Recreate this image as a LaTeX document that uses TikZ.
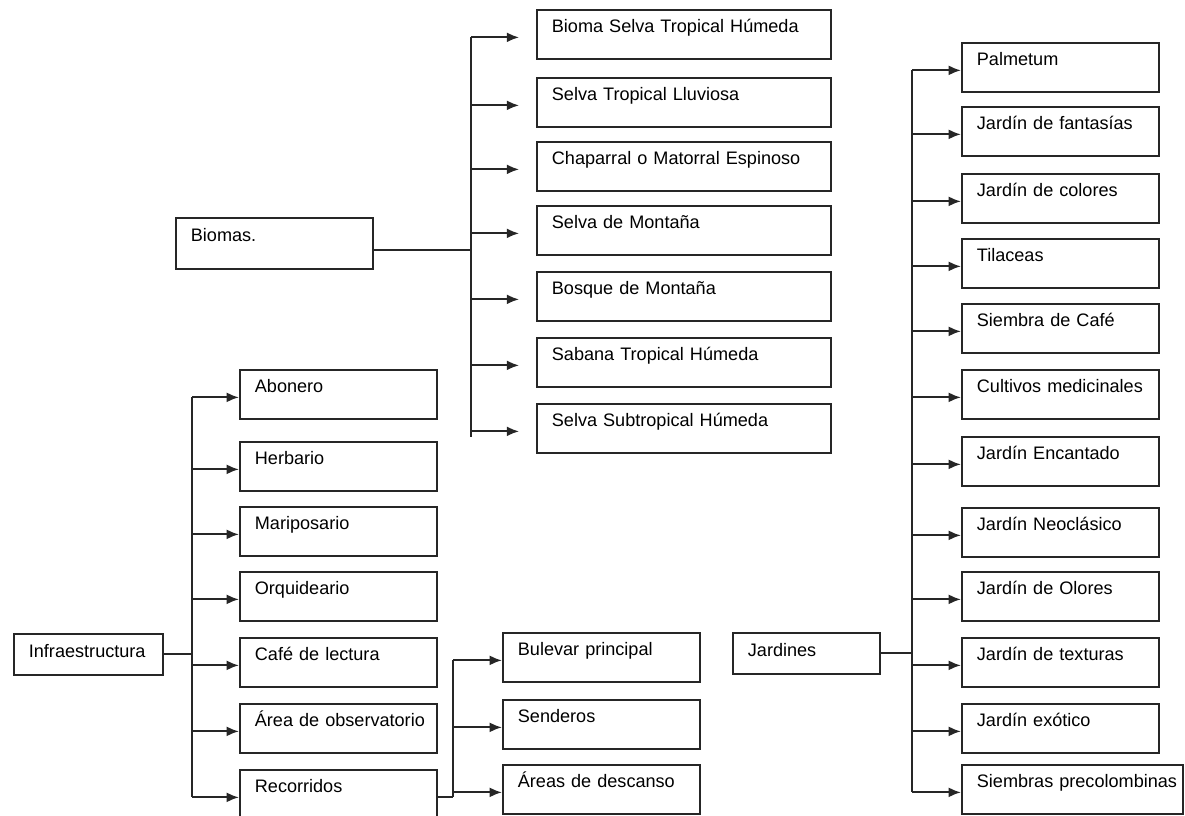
\documentclass[tikz,border=0pt]{standalone}
\usepackage{fontspec}
\setmainfont{Liberation Sans}
\usetikzlibrary{arrows.meta}
\tikzset{
  box/.style={draw=black!85, line width=1pt, anchor=north west, inner xsep=0pt, inner ysep=0pt,
    text height=0.46cm, text depth=0.52cm, text width=3.94cm, align=left,
    execute at begin node={\hspace*{0.3cm}}},
  wide/.style={box, text width=5.88cm},
  head/.style={box, text height=0.47cm, text depth=0.35cm},
  link/.style={line width=1.1pt, draw=black!85},
  arrow/.style={link, -{Latex[length=7pt,width=5.6pt]}},
  low/.style={yshift=-1.7pt}
}
\begin{document}
\begin{tikzpicture}[x=0.02cm,y=-0.02cm]
	\fontsize{10.3}{12}\selectfont
	\useasboundingbox (0,0) rectangle (1185,815);
	% Parents
	\node[head, text depth=0.55cm] (biomas) at (175,217) {Biomas.};
	\node[head, text width=2.98cm] (infra) at (13,633) {Infraestructura};
	\node[head, text width=2.94cm] (jardines) at (732,632) {Jardines};
	% Biomas
	\node[wide] (b1) at (536,9) {Bioma Selva Tropical Húmeda};
	\node[wide] (b2) at (536,77) {Selva Tropical Lluviosa};
	\node[wide] (b3) at (536,141) {Chaparral o Matorral Espinoso};
	\node[wide] (b4) at (536,205) {Selva de Montaña};
	\node[wide] (b5) at (536,271) {Bosque de Montaña};
	\node[wide] (b6) at (536,337) {Sabana Tropical Húmeda};
	\node[wide] (b7) at (536,403) {Selva Subtropical Húmeda};
	% Infraestructura
	\node[box] (i1) at (239,369) {Abonero};
	\node[box] (i2) at (239,441) {Herbario};
	\node[box] (i3) at (239,506) {Mariposario};
	\node[box] (i4) at (239,571) {Orquideario};
	\node[box] (i5) at (239,637) {Café de lectura};
	\node[box] (i6) at (239,703) {Área de observatorio};
	\node[box] (i7) at (239,769) {Recorridos};
	% Recorridos
	\node[box] (r1) at (502,632) {Bulevar principal};
	\node[box] (r2) at (502,699) {Senderos};
	\node[box] (r3) at (502,764) {Áreas de descanso};
	% Jardines
	\node[box] (j1) at (961,42) {Palmetum};
	\node[box] (j2) at (961,106) {Jardín de fantasías};
	\node[box] (j3) at (961,173) {Jardín de colores};
	\node[box] (j4) at (961,238) {Tilaceas};
	\node[box] (j5) at (961,303) {Siembra de Café};
	\node[box] (j6) at (961,369) {Cultivos medicinales};
	\node[box] (j7) at (961,436) {Jardín Encantado};
	\node[box] (j8) at (961,507) {Jardín Neoclásico};
	\node[box] (j9) at (961,571) {Jardín de Olores};
	\node[box] (j10) at (961,637) {Jardín de texturas};
	\node[box] (j11) at (961,703) {Jardín exótico};
	\node[box, text width=4.42cm] (j12) at (961,764) {Siembras precolombinas};
	% Trunks
	\coordinate (bt) at (471,0);
	\coordinate (it) at (192,0);
	\coordinate (rt) at (453,0);
	\coordinate (jt) at (912,0);
	% Biomas lines
	\draw[link] ([yshift=-4pt]biomas.east) -- ([yshift=-4pt]biomas.east -| bt);
	\draw[link] ([low]b1.west -| bt) -- ([low,yshift=-3pt]b7.west -| bt);
	\draw[arrow] ([low]b1.west -| bt) -- ([low,xshift=-9.6pt]b1.west);
	\draw[arrow] ([low]b2.west -| bt) -- ([low,xshift=-9.6pt]b2.west);
	\draw[arrow] ([low]b3.west -| bt) -- ([low,xshift=-9.6pt]b3.west);
	\draw[arrow] ([low]b4.west -| bt) -- ([low,xshift=-9.6pt]b4.west);
	\draw[arrow] ([low]b5.west -| bt) -- ([low,xshift=-9.6pt]b5.west);
	\draw[arrow] ([low]b6.west -| bt) -- ([low,xshift=-9.6pt]b6.west);
	\draw[arrow] ([low]b7.west -| bt) -- ([low,xshift=-9.6pt]b7.west);
	% Infraestructura lines
	\draw[link] (infra.east) -- (infra.east -| it);
	\draw[link] ([low]i1.west -| it) -- ([low]i7.west -| it);
	\draw[arrow] ([low]i1.west -| it) -- ([low]i1.west);
	\draw[arrow] ([low]i2.west -| it) -- ([low]i2.west);
	\draw[arrow] ([low]i3.west -| it) -- ([low]i3.west);
	\draw[arrow] ([low]i4.west -| it) -- ([low]i4.west);
	\draw[arrow] ([low]i5.west -| it) -- ([low]i5.west);
	\draw[arrow] ([low]i6.west -| it) -- ([low]i6.west);
	\draw[arrow] ([low]i7.west -| it) -- ([low]i7.west);
	% Recorridos lines
	\draw[link] ([low]i7.east) -- ([low]i7.east -| rt);
	\draw[link] ([low]r1.west -| rt) -- ([low]i7.east -| rt);
	\draw[arrow] ([low]r1.west -| rt) -- ([low]r1.west);
	\draw[arrow] ([low]r2.west -| rt) -- ([low]r2.west);
	\draw[arrow] ([low]r3.west -| rt) -- ([low]r3.west);
	% Jardines lines
	\draw[link] (jardines.east) -- (jardines.east -| jt);
	\draw[link] ([low]j1.west -| jt) -- ([low]j12.west -| jt);
	\draw[arrow] ([low]j1.west -| jt) -- ([low]j1.west);
	\draw[arrow] ([low]j2.west -| jt) -- ([low]j2.west);
	\draw[arrow] ([low]j3.west -| jt) -- ([low]j3.west);
	\draw[arrow] ([low]j4.west -| jt) -- ([low]j4.west);
	\draw[arrow] ([low]j5.west -| jt) -- ([low]j5.west);
	\draw[arrow] ([low]j6.west -| jt) -- ([low]j6.west);
	\draw[arrow] ([low]j7.west -| jt) -- ([low]j7.west);
	\draw[arrow] ([low]j8.west -| jt) -- ([low]j8.west);
	\draw[arrow] ([low]j9.west -| jt) -- ([low]j9.west);
	\draw[arrow] ([low]j10.west -| jt) -- ([low]j10.west);
	\draw[arrow] ([low]j11.west -| jt) -- ([low]j11.west);
	\draw[arrow] ([low]j12.west -| jt) -- ([low]j12.west);
\end{tikzpicture}
\end{document}
